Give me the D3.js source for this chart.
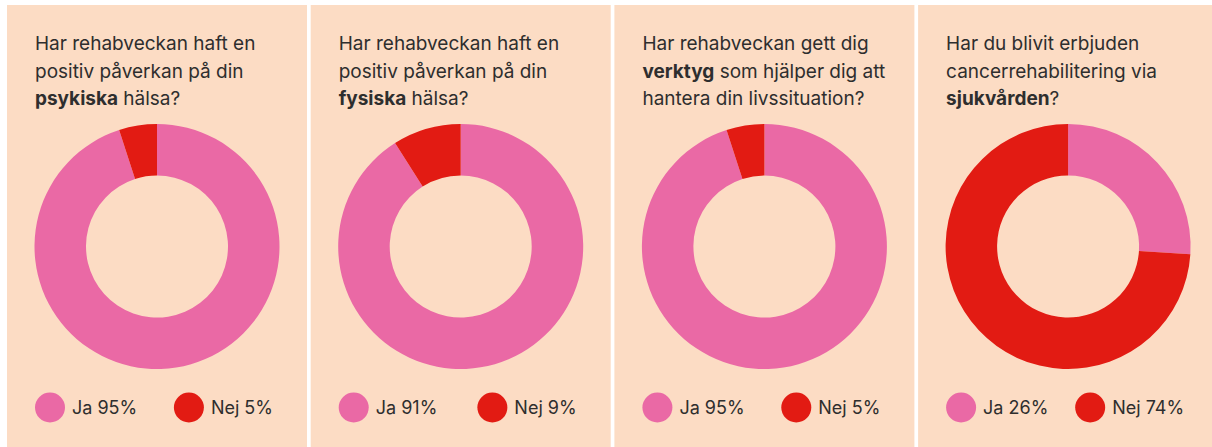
<!DOCTYPE html>
<html>
<head>
<meta charset="utf-8">
<script src="https://cdnjs.cloudflare.com/ajax/libs/d3/7.8.5/d3.min.js"></script>
<style>
  body { margin: 0; background: #fff; }
  svg { display: block; }
  text { font-family: Inter, "Open Sans", sans-serif; fill: #2e2e2e; }
</style>
</head>
<body>
<div id="chart-area"></div>
<script>
// questions, one array of lines per panel (**word** = bold)
var titles = [
    ['Har rehabveckan haft en', 'positiv påverkan på din', '**psykiska** hälsa?'],
    ['Har rehabveckan haft en', 'positiv påverkan på din', '**fysiska** hälsa?'],
    ['Har rehabveckan gett dig', '**verktyg** som hjälper dig att', 'hantera din livssituation?'],
    ['Har du blivit erbjuden', 'cancerrehabilitering via', '**sjukvården**?']
];
var categories = ['Ja', 'Nej'];
var jaValues = [95, 91, 95, 26];
var nejValues = [5, 9, 5, 74];

var def = {
    width: 1212,
    height: 447,
    left: 7,
    top: 5,
    panelW: 300,
    step: 303.7,
    cy: 246.5,
    rOut: 122.5,
    rIn: 71,
    legendY: 407.5,
    bg: '#fcdcc4'
};

var color = d3.scaleOrdinal()
    .domain(categories)
    .range(['#ea69a5', '#e21b13']);

var svg = d3.select('#chart-area').append('svg')
    .attr('width', def.width)
    .attr('height', def.height);

var pie = d3.pie().sort(null).value(d => d.value);
var arc = d3.arc().innerRadius(def.rIn).outerRadius(def.rOut);

titles.forEach((lines, i) => {
    var g = svg.append('g')
        .attr('transform', 'translate(' + (def.left + i * def.step) + ',' + def.top + ')');

    g.append('rect')
        .attr('width', def.panelW)
        .attr('height', def.height)
        .attr('fill', def.bg);

    // title
    lines.forEach((line, j) => {
        var t = g.append('text')
            .attr('x', 28)
            .attr('y', 45 + j * 27.5)
            .attr('font-size', '19px');
        line.split(/(\*\*[^*]+\*\*)/).filter(s => s.length).forEach(part => {
            var bold = part.startsWith('**');
            t.append('tspan')
                .attr('font-weight', bold ? 700 : 400)
                .text(bold ? part.slice(2, -2) : part);
        });
    });

    // donut
    var vals = [
        { key: categories[0], value: jaValues[i] },
        { key: categories[1], value: nejValues[i] }
    ];
    g.append('g')
        .attr('transform', 'translate(' + def.panelW / 2 + ',' + (def.cy - def.top) + ')')
        .selectAll('path')
        .data(pie(vals))
        .enter()
        .append('path')
        .attr('d', arc)
        .attr('fill', d => color(d.data.key));

    // legend: first item left, second item right, spread over [28, 266]
    var leg = g.append('g').attr('transform', 'translate(0,' + (def.legendY - def.top) + ')');
    var items = leg.selectAll('g')
        .data(vals)
        .enter()
        .append('g');
    items.append('circle')
        .attr('cx', 15)
        .attr('r', 15)
        .attr('fill', d => color(d.key));
    items.append('text')
        .attr('x', 37)
        .attr('y', 6.5)
        .attr('font-size', '18px')
        .text(d => d.key + ' ' + d.value + '%');
    items.attr('transform', function(d, k) {
        if (k === 0) return 'translate(28,0)';
        var w = 37 + d3.select(this).select('text').node().getComputedTextLength();
        return 'translate(' + (266 - w) + ',0)';
    });
});
</script>
</body>
</html>
